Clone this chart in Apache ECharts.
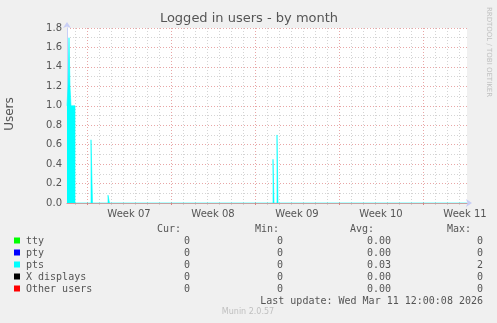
<!DOCTYPE html>
<html><head><meta charset="utf-8">
<script src="https://cdn.jsdelivr.net/npm/echarts@6/dist/echarts.min.js"></script>
<style>html,body{margin:0;padding:0;background:#f0f0f0;}#c{width:497px;height:323px;}</style>
</head><body><div id="c"></div>
<script>
// x values are hours since the left edge of the graph (33 1/3 days shown)
const xMin = 0, xMax = 800;
const dayTicks = [16,40,64,88,112,136,160,184,208,232,256,280,304,328,352,376,400,424,448,472,496,520,544,568,592,616,640,664,688,712,736,760,784];
const weekTicks = [40,208,376,544,712];
const weekLabelPos = [124,292,460,628,796];
const weekLabels = ['Week 07','Week 08','Week 09','Week 10','Week 11'];
const yTicks = [0,0.2,0.4,0.6,0.8,1.0,1.2,1.4,1.6,1.8];
// pts series [hour, users] (step function)
const ptsData = [[0,1.0],[2,1.2],[4,1.7],[6,1.2],[8,1.0],[16,0],[48,0.65],[51,0],[82,0.08],[85,0],[412,0.45],[414,0],[420,0.7],[422,0],[800,0]];
const legendNames = ['tty','pty','pts','X displays','Other users'];
const legendColors = ['#00ff00','#0000ff','#00ffff','#000000','#ff0000'];
const curVals = ['0','0','0','0','0'];
const minVals = ['0','0','0','0','0'];
const avgVals = ['0.00','0.00','0.03','0.00','0.00'];
const maxVals = ['0','0','2','0','0'];

const mono = 'DejaVu Sans Mono';
const sans = 'DejaVu Sans';
const txtCol = '#555';
const graphic = [];
graphic.push({type:'text', x:249, y:19, style:{text:'Logged in users - by month', font:'13px '+sans, fill:txtCol, align:'center', verticalAlign:'middle'}});
graphic.push({type:'text', x:10, y:114, rotation:Math.PI/2, style:{text:'Users', font:'12px '+sans, fill:txtCol, align:'center', verticalAlign:'middle'}});
graphic.push({type:'text', x:489, y:52, rotation:-Math.PI/2, style:{text:'RRDTOOL / TOBI OETIKER', font:'7px '+sans, fill:'#c0c0c0', align:'center', verticalAlign:'middle'}});
const headY = 229.5;
graphic.push({type:'text', x:181, y:headY, style:{text:'Cur:', font:'10px '+mono, fill:txtCol, align:'right', verticalAlign:'middle'}});
graphic.push({type:'text', x:279, y:headY, style:{text:'Min:', font:'10px '+mono, fill:txtCol, align:'right', verticalAlign:'middle'}});
graphic.push({type:'text', x:374, y:headY, style:{text:'Avg:', font:'10px '+mono, fill:txtCol, align:'right', verticalAlign:'middle'}});
graphic.push({type:'text', x:471, y:headY, style:{text:'Max:', font:'10px '+mono, fill:txtCol, align:'right', verticalAlign:'middle'}});
legendNames.forEach((n,i)=>{
  const y = 241 + i*12;
  graphic.push({type:'rect', shape:{x:14, y:y-3.5, width:6, height:6}, style:{fill:legendColors[i]}});
  graphic.push({type:'text', x:26, y:y, style:{text:n, font:'10px '+mono, fill:txtCol, align:'left', verticalAlign:'middle'}});
  graphic.push({type:'text', x:190, y:y, style:{text:curVals[i], font:'10px '+mono, fill:txtCol, align:'right', verticalAlign:'middle'}});
  graphic.push({type:'text', x:283, y:y, style:{text:minVals[i], font:'10px '+mono, fill:txtCol, align:'right', verticalAlign:'middle'}});
  graphic.push({type:'text', x:391, y:y, style:{text:avgVals[i], font:'10px '+mono, fill:txtCol, align:'right', verticalAlign:'middle'}});
  graphic.push({type:'text', x:483, y:y, style:{text:maxVals[i], font:'10px '+mono, fill:txtCol, align:'right', verticalAlign:'middle'}});
});
graphic.push({type:'text', x:483, y:301, style:{text:'Last update: Wed Mar 11 12:00:08 2026', font:'10px '+mono, fill:txtCol, align:'right', verticalAlign:'middle'}});
graphic.push({type:'text', x:248, y:312, style:{text:'Munin 2.0.57', font:'8px '+sans, fill:'#c0c0c0', align:'center', verticalAlign:'middle'}});

const chart = echarts.init(document.getElementById('c'), null, {renderer:'canvas'});
chart.setOption({
  animation:false,
  backgroundColor:'#f0f0f0',
  grid:{left:67, right:30, top:28, bottom:120, show:true, backgroundColor:'#ffffff', borderWidth:0},
  xAxis:[
    {type:'value', min:xMin, max:xMax, z:3,
     axisLine:{show:true, onZero:false, lineStyle:{color:'#d89a9a', width:1}},
     axisTick:{show:true, length:2, customValues:weekTicks, lineStyle:{color:'#e08080'}},
     axisLabel:{show:true, customValues:weekLabelPos, formatter:(v)=>weekLabels[weekLabelPos.indexOf(v)]||'', color:txtCol, fontFamily:sans, fontSize:10, margin:6},
     splitLine:{show:true, lineStyle:{color:'#e8a6a6', type:[1,2], width:1}}},
    {type:'value', min:xMin, max:xMax, z:2, position:'bottom',
     axisLine:{show:true, onZero:false, symbol:['none','arrow'], symbolSize:[6,6], symbolOffset:[0,5], lineStyle:{color:'#c8cef5', width:1}},
     axisTick:{show:true, length:2, customValues:dayTicks, lineStyle:{color:'#d0d0d0'}},
     axisLabel:{show:false},
     splitLine:{show:true, lineStyle:{color:'#d4d4d4', type:[1,2], width:1}}}
  ],
  yAxis:[
    {type:'value', min:0, max:1.8, interval:0.2, z:3,
     axisLine:{show:true, onZero:false, symbol:['none','arrow'], symbolSize:[6,6], symbolOffset:[0,6], lineStyle:{color:'#c8cef5'}},
     axisTick:{show:false},
     axisLabel:{color:txtCol, fontFamily:sans, fontSize:10, margin:5, formatter:(v)=>v.toFixed(1), customValues:yTicks},
     splitLine:{show:true, lineStyle:{color:'#e8a6a6', type:[1,2], width:1}}},
    {type:'value', min:0, max:1.8, interval:0.1, z:2,
     axisLine:{show:false}, axisTick:{show:false}, axisLabel:{show:false},
     splitLine:{show:true, lineStyle:{color:'#d4d4d4', type:[1,2], width:1}}}
  ],
  series:[
    {name:'pts', type:'line', xAxisIndex:0, yAxisIndex:0, step:'end', data:ptsData, symbol:'none', z:5,
     lineStyle:{width:0.6, color:'#00ffff'}, areaStyle:{color:'#00ffff', opacity:1}}
  ],
  graphic:graphic
});
</script></body></html>
